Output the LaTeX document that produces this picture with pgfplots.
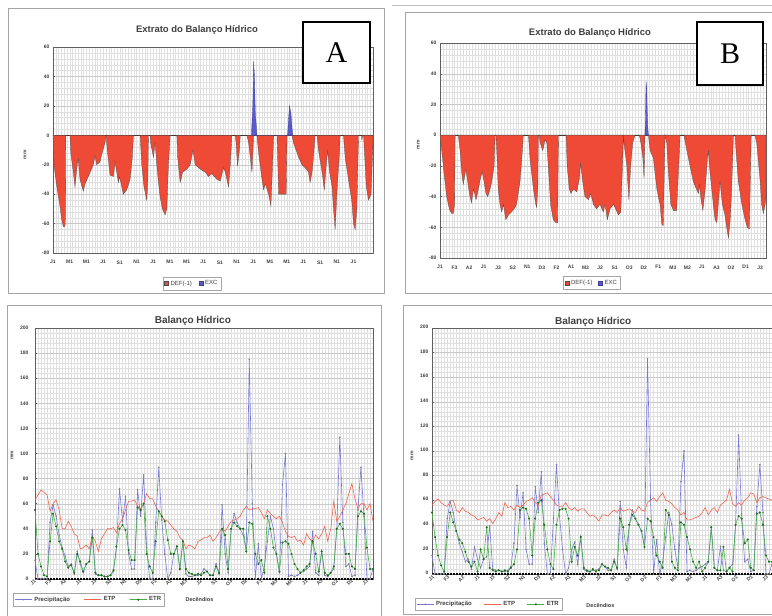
\documentclass[border=0pt]{standalone}
\usepackage{fontspec}
\setmainfont{Liberation Sans}
\newfontfamily\seriffont{Liberation Serif}
\usepackage{pgfplots}
\usepackage{pgfplotstable}
\pgfplotsset{compat=1.18}
\definecolor{defred}{RGB}{238,74,54}
\definecolor{excblue}{RGB}{90,90,205}
\definecolor{pblue}{RGB}{120,120,215}
\definecolor{etpred}{RGB}{240,100,80}
\definecolor{etrg}{RGB}{70,175,70}
\definecolor{etrd}{RGB}{30,105,30}
\definecolor{framegray}{RGB}{165,165,165}

\pgfplotstableread{
i p etp etr
0 15 63 55
1 0 67 20
2 0 71 10
3 0 69 3
4 0 67 2
5 45 54 30
6 59 60 52
7 50 63 42
8 35 55 30
9 25 40 24
10 18 40 14
11 10 46 9
12 12 42 11
13 4 36 5
14 22 34 20
15 12 24 14
16 5 25 6
17 12 27 12
18 14 24 14
19 39 34 33
20 4 30 5
21 3 22 3
22 3 32 3
23 2 36 2
24 2 40 2
25 3 40 3
26 6 41 7
27 25 37 26
28 72 44 40
29 46 48 43
30 66 55 39
31 20 62 23
32 8 62 15
33 8 63 15
34 71 58 57
35 50 56 55
36 83 60 60
37 25 68 20
38 0 64 10
39 0 64 5
40 45 58 30
41 89 54 54
42 47 50 50
43 20 47 46
44 0 46 31
45 5 43 20
46 20 40 20
47 26 38 26
48 8 33 8
49 30 31 30
50 4 24 8
51 2 27 5
52 2 26 4
53 3 24 3
54 3 30 4
55 4 31 3
56 8 33 5
57 6 33 6
58 3 35 3
59 3 30 3
60 12 33 10
61 4 37 5
62 59 40 40
63 20 38 35
64 5 42 8
65 40 46 40
66 52 47 45
67 45 48 42
68 40 50 40
69 35 55 40
70 22 58 22
71 175 55 45
72 60 56 44
73 0 56 20
74 28 57 12
75 0 53 15
76 10 48 5
77 30 55 50
78 50 52 40
79 40 50 25
80 20 48 20
81 5 50 6
82 75 45 29
83 100 38 30
84 2 34 28
85 3 33 20
86 2 34 12
87 3 30 8
88 5 31 5
89 6 27 7
90 8 36 10
91 10 32 12
92 38 30 30
93 5 35 20
94 3 32 6
95 22 36 22
96 3 42 5
97 2 30 3
98 5 40 5
99 8 62 10
100 40 46 40
101 113 50 44
102 45 55 40
103 10 60 20
104 12 68 20
105 2 76 10
106 3 64 8
107 55 56 50
108 89 60 54
109 50 60 52
110 0 55 25
111 0 60 8
112 8 46 8
}\dataC

\pgfplotstableread{
i p etp etr
0 15 56 50
1 0 59 30
2 0 61 15
3 0 58 7
4 0 56 2
5 45 55 30
6 59 59 50
7 50 60 42
8 35 52 35
9 25 50 28
10 18 54 25
11 10 51 18
12 12 50 10
13 4 48 6
14 22 47 10
15 12 44 2
16 5 45 20
17 12 46 12
18 14 43 38
19 39 45 5
20 4 41 3
21 3 45 2
22 3 50 3
23 2 47 2
24 2 58 3
25 3 54 2
26 6 55 5
27 25 52 8
28 72 56 20
29 46 54 52
30 66 56 54
31 20 59 53
32 8 60 45
33 8 62 15
34 71 58 45
35 50 56 58
36 83 64 60
37 25 65 40
38 0 66 20
39 0 63 8
40 45 60 4
41 89 56 40
42 47 55 52
43 20 55 53
44 0 58 53
45 5 54 45
46 20 52 10
47 26 54 22
48 8 51 15
49 30 53 30
50 4 53 5
51 2 50 3
52 2 47 2
53 3 48 4
54 3 46 2
55 4 43 3
56 8 48 8
57 6 48 6
58 3 47 5
59 3 50 3
60 12 52 10
61 4 50 5
62 59 54 45
63 20 51 38
64 5 52 20
65 40 53 40
66 52 51 48
67 45 50 45
68 40 55 40
69 35 52 35
70 22 51 22
71 175 58 45
72 60 60 43
73 0 62 30
74 28 59 15
75 0 63 10
76 10 66 5
77 30 60 52
78 50 59 48
79 40 57 10
80 20 54 5
81 5 52 3
82 75 48 42
83 100 50 40
84 2 44 30
85 3 44 20
86 2 45 10
87 3 46 5
88 5 47 10
89 6 50 2
90 8 54 5
91 10 48 10
92 38 52 38
93 5 54 5
94 3 50 3
95 22 56 3
96 3 58 22
97 2 60 2
98 5 69 5
99 8 57 2
100 40 55 40
101 113 58 47
102 45 56 45
103 10 60 25
104 12 62 28
105 2 66 5
106 3 65 3
107 55 58 49
108 89 62 50
109 50 63 40
110 0 62 15
111 0 61 10
112 8 60 10
}\dataD

\pgfplotsset{
  excel/.style={
    scale only axis, anchor=south west,
    grid=both,
    minor grid style={gray!24, line width=0.25pt},
    major grid style={gray!42, line width=0.35pt},
    major x grid style={gray!24, line width=0.25pt},
    axis line style={gray!75!black, line width=0.5pt},
    /pgf/number format/assume math mode=true,
    ticklabel style={font=\fontsize{5}{6}\selectfont\bfseries, text=black!75},
    tick style={gray!75!black, line width=0.4pt},
    major tick length=2pt, minor tick length=0pt,
    ytick pos=left, xtick pos=bottom,
    title style={font=\fontsize{9.5}{11}\selectfont\bfseries, text=black!75, anchor=center, yshift=-8pt},
    ylabel={mm},
    ylabel style={font=\fontsize{5}{6}\selectfont\bfseries, text=black!75, anchor=center},
  },
  sqlegend/.style={legend image code/.code={\fill[##1] (0pt,-2pt) rectangle (4pt,2pt);}},
}

\begin{document}
\begin{tikzpicture}
\useasboundingbox (0,0) rectangle (772pt,616pt);
\fill[white] (0,0) rectangle (772pt,616pt);
% chart frames
\draw[framegray, line width=0.7pt] (8pt,323pt) rectangle (384pt,608pt);
\draw[gray!50, line width=0.6pt] (392pt,611pt) -- (772pt,611pt);
\draw[framegray, line width=0.7pt] (405pt,323pt) rectangle (785pt,604pt);
\draw[framegray, line width=0.7pt] (7pt,-10pt) rectangle (381pt,311pt);
\draw[framegray, line width=0.7pt] (403pt,2pt) rectangle (785pt,311pt);

% ---------------- A ----------------
\begin{axis}[excel, at={(53pt,363pt)}, width=320pt, height=206pt,
  xmin=0, xmax=115, ymin=-80, ymax=60,
  ytick={-80,-60,...,60}, minor y tick num=4,
  xtick={0,6,...,108},
  xticklabels={J1,M1,M1,J1,S1,N1,J1,M1,M1,J1,S1,N1,J1,M1,M1,J1,S1,N1,J1},
  minor xtick={0,...,115},
  xtick style={draw=none},
  xticklabel style={yshift=-4pt},
  extra y ticks={0}, extra y tick labels={},
  extra y tick style={grid=major, major grid style={black!85, line width=0.8pt}},
  title={Extrato do Balanço Hídrico},
  title style={at={(axis description cs:0.45,1.092)}},
  ylabel style={at={(axis description cs:-0.0875,0.476)}},
  legend style={at={(axis description cs:0.434,-0.1165)}, anchor=north, legend columns=2,
    draw=gray!70, font=\fontsize{6}{7}\selectfont, text=black!75, inner sep=1.5pt,
    /tikz/every even column/.append style={column sep=5pt}},
]
\addplot[fill=defred, draw=black!70, line width=0.3pt, sqlegend] coordinates {
(0,0) (0.1,-5) (0.4,-21) (1.3,-34) (2.5,-48) (3.1,-57) (3.7,-62) (4.3,-62) (4.5,-55) (4.6,0)
(6.1,0) (6.4,-12) (7.3,-25) (7.9,-35) (8.7,-20) (9.1,-16) (9.7,-30) (10.9,-38) (11.5,-33) (12.7,-28) (14.5,-20) (15.1,-14) (15.7,-20) (16.9,-18) (17.5,-13) (18.7,-5) (19.1,0)
(19.5,-10) (20.5,-27) (21.7,-28) (22.3,-18) (22.9,-25) (23.5,-32) (23.9,-28) (25.3,-40) (26.5,-37) (27.7,-30) (28.5,-15) (28.9,0)
(31.3,0) (31.9,-20) (32.7,-35) (33.7,-44) (34.1,-30) (34.3,0)
(34.9,0) (35.1,-5) (36.1,-15) (36.7,-5) (37.3,-20) (37.9,-32) (38.5,-42) (39.3,-50) (40.3,-54) (40.9,-50) (41.5,-20) (42.1,0)
(44.5,0) (44.8,-15) (45.7,-32) (46.6,-25) (48.1,-23) (49.3,-20) (50.3,-10) (51.1,-20) (52.9,-23) (54.7,-25) (55.9,-28) (57.1,-26) (58.9,-30) (60.1,-31) (61.3,-22) (61.9,-25) (63.1,-35) (63.7,-20) (64.3,0)
(65.5,0) (65.8,-5) (66.3,-21) (67,-10) (67.3,0)
(69.7,0) (70.3,-5) (70.9,-15) (71.5,-25) (72.1,0)
(73.3,0) (73.9,-12) (75.1,-30) (75.7,-37) (76.3,-33) (77.5,-40) (78.3,-48) (78.7,-30) (79.3,0)
(80.5,0) (81.1,-40) (83.8,-40) (84.1,0)
(85.9,0) (86.4,-5) (88.3,-15) (89.5,-20) (90.6,-22) (91.8,-25) (92.4,-32) (93.1,-25) (93.6,-15) (94.2,0)
(94.9,0) (95.4,-10) (96.7,-25) (97.5,-37) (98.2,-20) (98.7,-10) (99.4,-25) (100.3,-35) (100.8,-50) (101.4,-64) (102,-40) (103,-10) (103.2,0)
(104.4,0) (105,-15) (106.2,-30) (107.4,-45) (108,-60) (108.6,-64) (109.2,-50) (109.8,0)
(110.8,0) (111,-3) (111.3,0) (111.6,0) (111.9,-10) (112.6,-35) (113.4,-44) (114.3,-40) (115,-5)
} \closedcycle;
\addlegendentry{DEF(-1)}
\addplot[fill=excblue, draw=excblue!70!black, line width=0.3pt, sqlegend] coordinates {
(71.3,0) (71.8,20) (72.1,50) (72.4,40) (72.7,15) (73,8) (73.3,0)
(84.3,0) (84.7,12) (85,20) (85.5,15) (85.9,5) (86.2,0)
} \closedcycle;
\addlegendentry{EXC}
\end{axis}
\draw[black, line width=1.3pt, fill=white] (303pt,533pt) rectangle (370pt,594pt);
\node[font=\seriffont\fontsize{30}{32}\selectfont] at (336.5pt,563.5pt) {A};

% ---------------- B ----------------
\begin{axis}[excel, at={(440pt,358pt)}, width=326pt, height=215pt,
  xmin=0, xmax=112, ymin=-80, ymax=60,
  ytick={-80,-60,...,60}, minor y tick num=4,
  xtick={0,5,...,110},
  xticklabels={J1,F3,A2,J1,J3,S2,N1,D3,F2,A1,M3,J2,S1,O3,D2,F1,M3,M2,J1,A3,O2,D1,J3},
  minor xtick={0,...,112},
  xtick style={draw=none},
  xticklabel style={yshift=-4pt},
  extra y ticks={0}, extra y tick labels={},
  extra y tick style={grid=major, major grid style={black!85, line width=0.8pt}},
  title={Extrato do Balanço Hídrico},
  title style={at={(axis description cs:0.46,1.056)}},
  ylabel style={at={(axis description cs:-0.067,0.526)}},
  legend style={at={(axis description cs:0.466,-0.084)}, anchor=north, legend columns=2,
    draw=gray!70, font=\fontsize{6}{7}\selectfont, text=black!75, inner sep=1.5pt,
    /tikz/every even column/.append style={column sep=4pt}},
]
\addplot[fill=defred, draw=black!70, line width=0.3pt, sqlegend] coordinates {
(0,0) (0.6,-10) (1.4,-25) (2.3,-40) (3.2,-48) (4,-51) (4.6,-51) (5,-45) (5.2,0)
(6.3,0) (6.9,-10) (7.5,-25) (8,-32) (8.9,-22) (9.5,-30) (10.1,-38) (10.8,-44) (11.5,-35) (12.4,-42) (13.2,-35) (14,-27) (14.5,-24) (15.1,-30) (15.8,-38) (16.4,-40) (17.2,-35) (17.8,-30) (18.6,-20) (18.9,0)
(19.2,0) (19.5,-10) (20,-35) (20.6,-45) (21.2,-50) (21.8,-45) (22.6,-55) (23.5,-52) (24.6,-50) (25.8,-47) (26.3,-45) (27.5,-30) (28.3,-10) (28.6,0)
(30.4,0) (30.9,-15) (32.1,-35) (32.9,-45) (33.2,-47) (33.6,-35) (33.8,0)
(34.1,0) (34.4,-5) (35.3,-10) (36.1,-3) (36.7,-5) (37.2,-20) (38,-45) (38.9,-55) (39.8,-57) (40.4,-57) (40.7,0)
(43.3,0) (43.7,-20) (44.4,-35) (45,-38) (45.8,-35) (47,-37) (47.9,-28) (48.3,-18) (49,-30) (49.8,-40) (51,-42) (51.8,-38) (52.7,-45) (53.8,-48) (55,-45) (56.1,-50) (56.7,-45) (57.5,-55) (58.4,-48) (59.6,-45) (61.3,-52) (62.1,-50) (62.7,-20) (63,0)
(63.2,-5) (64.2,-20) (64.5,-30) (64.9,-42) (65.5,-20) (66.2,-5) (67,0)
(68.5,0) (69,-5) (69.7,-15) (70.1,-28) (70.4,0)
(71.6,0) (72.2,-10) (73.3,-15) (74.5,-35) (75,-40) (75.6,-45) (76.2,-58) (76.7,-59) (77.3,0)
(77.9,-5) (78.5,-25) (79.3,-45) (80.2,-49) (81.3,-49) (82,-20) (82.5,0)
(83.8,0) (84.8,-10) (85.9,-20) (87,-30) (87.6,-33) (88.8,-38) (89.1,-32) (89.7,-42) (90.3,-49) (91.1,-35) (91.9,-15) (92.2,-10) (92.8,-25) (93.9,-45) (94.5,-55) (95.1,-57) (95.6,-45) (96.2,-30) (97,-45) (97.9,-52) (98.5,-60) (99.1,-67) (99.7,-55) (100.2,-35) (100.8,0)
(101.4,0) (101.7,-10) (102.5,-30) (103.7,-45) (104.8,-55) (105.6,-60) (106.3,-61) (106.9,0)
(108.2,0) (108.8,-5) (110,-30) (110.5,-45) (111.1,-51) (111.7,-45) (112,-40)
} \closedcycle;
\addlegendentry{DEF(-1)}
\addplot[fill=excblue, draw=excblue!70!black, line width=0.3pt, sqlegend] coordinates {
(70.4,0) (70.6,10) (70.8,35) (71,30) (71.2,15) (71.4,5) (71.6,0)
} \closedcycle;
\addlegendentry{EXC}
\end{axis}
\draw[black, line width=1.3pt, fill=white] (697pt,531pt) rectangle (763pt,594pt);
\node[font=\seriffont\fontsize{30}{32}\selectfont] at (730pt,562.5pt) {B};

% ---------------- C ----------------
\begin{axis}[excel, at={(35pt,37pt)}, width=338pt, height=251pt,
  xmin=0, xmax=112, ymin=0, ymax=200,
  ytick={0,20,...,200}, minor y tick num=4,
  xtick={0,5,...,110},
  xticklabels={J1,F3,A2,J1,J3,S2,N1,D3,F2,A1,M3,J2,S1,O3,D2,F1,M3,M2,J1,A3,O2,D1,J3},
  minor xtick={0,...,112},
  xtick style={draw=none},
  xticklabel style={rotate=45, anchor=east, font=\fontsize{5}{5}\selectfont\bfseries, inner sep=0.5pt, yshift=-1pt},
  yticklabel style={xshift=-3pt},
  extra y ticks={0}, extra y tick labels={},
  extra y tick style={grid=major, major grid style={black, line width=1.6pt, dash pattern=on 2pt off 1pt}},
  title={Balanço Hídrico},
  title style={at={(axis description cs:0.467,1.036)}, font=\fontsize{10}{11}\selectfont\bfseries},
  ylabel style={at={(axis description cs:-0.068,0.494)}},
  xlabel={Decêndios},
  xlabel style={at={(axis description cs:0.435,-0.08)}, anchor=west, font=\fontsize{5.5}{6}\selectfont\bfseries, text=black!75},
  legend style={at={(axis description cs:-0.065,-0.056)}, anchor=north west, legend columns=3,
    draw=gray!70, font=\fontsize{6}{7}\selectfont\bfseries, text=black!75, inner sep=1.5pt,
    /tikz/every even column/.append style={column sep=12pt}},
]
\addplot[color=pblue, line width=0.6pt, mark=*, mark size=0.45pt, mark options={fill=gray, draw=gray}] table[x=i, y=p] {\dataC};
\addlegendentry{Precipitação}
\addplot[color=etpred, line width=0.6pt] table[x=i, y=etp] {\dataC};
\addlegendentry{ETP}
\addplot[color=etrg, line width=0.6pt, mark=*, mark size=0.7pt, mark options={fill=etrd, draw=etrd}] table[x=i, y=etr] {\dataC};
\addlegendentry{ETR}
\end{axis}

% ---------------- D ----------------
\begin{axis}[excel, at={(432pt,42pt)}, width=340pt, height=246pt,
  xmin=0, xmax=112, ymin=0, ymax=200,
  ytick={0,20,...,200}, minor y tick num=4,
  xtick={0,5,...,110},
  xticklabels={J1,F3,A2,J1,J3,S2,N1,D3,F2,A1,M3,J2,S1,O3,D2,F1,M3,M2,J1,A3,O2,D1,J3},
  minor xtick={0,...,112},
  xtick style={draw=none},
  xticklabel style={rotate=45, anchor=east, font=\fontsize{5}{5}\selectfont\bfseries, inner sep=0.5pt, yshift=-2.5pt},
  yticklabel style={yshift=1pt},
  extra y ticks={0}, extra y tick labels={},
  extra y tick style={grid=major, major grid style={black, line width=1.6pt, dash pattern=on 2pt off 1pt}},
  title={Balanço Hídrico},
  title style={at={(axis description cs:0.474,1.033)}, font=\fontsize{10}{11}\selectfont\bfseries},
  ylabel style={at={(axis description cs:-0.059,0.48)}},
  xlabel={Decêndios},
  xlabel style={at={(axis description cs:0.444,-0.126)}, anchor=west, font=\fontsize{5.5}{6}\selectfont\bfseries, text=black!75},
  legend style={at={(axis description cs:-0.05,-0.0976)}, anchor=north west, legend columns=3,
    draw=gray!70, font=\fontsize{6}{7}\selectfont\bfseries, text=black!75, inner sep=1.2pt,
    /tikz/every even column/.append style={column sep=10pt}},
]
\addplot[color=pblue, line width=0.6pt, mark=*, mark size=0.45pt, mark options={fill=gray, draw=gray}] table[x=i, y=p] {\dataD};
\addlegendentry{Precipitação}
\addplot[color=etpred, line width=0.6pt] table[x=i, y=etp] {\dataD};
\addlegendentry{ETP}
\addplot[color=etrg, line width=0.6pt, mark=*, mark size=0.7pt, mark options={fill=etrd, draw=etrd}] table[x=i, y=etr] {\dataD};
\addlegendentry{ETR}
\end{axis}
\end{tikzpicture}
\end{document}
